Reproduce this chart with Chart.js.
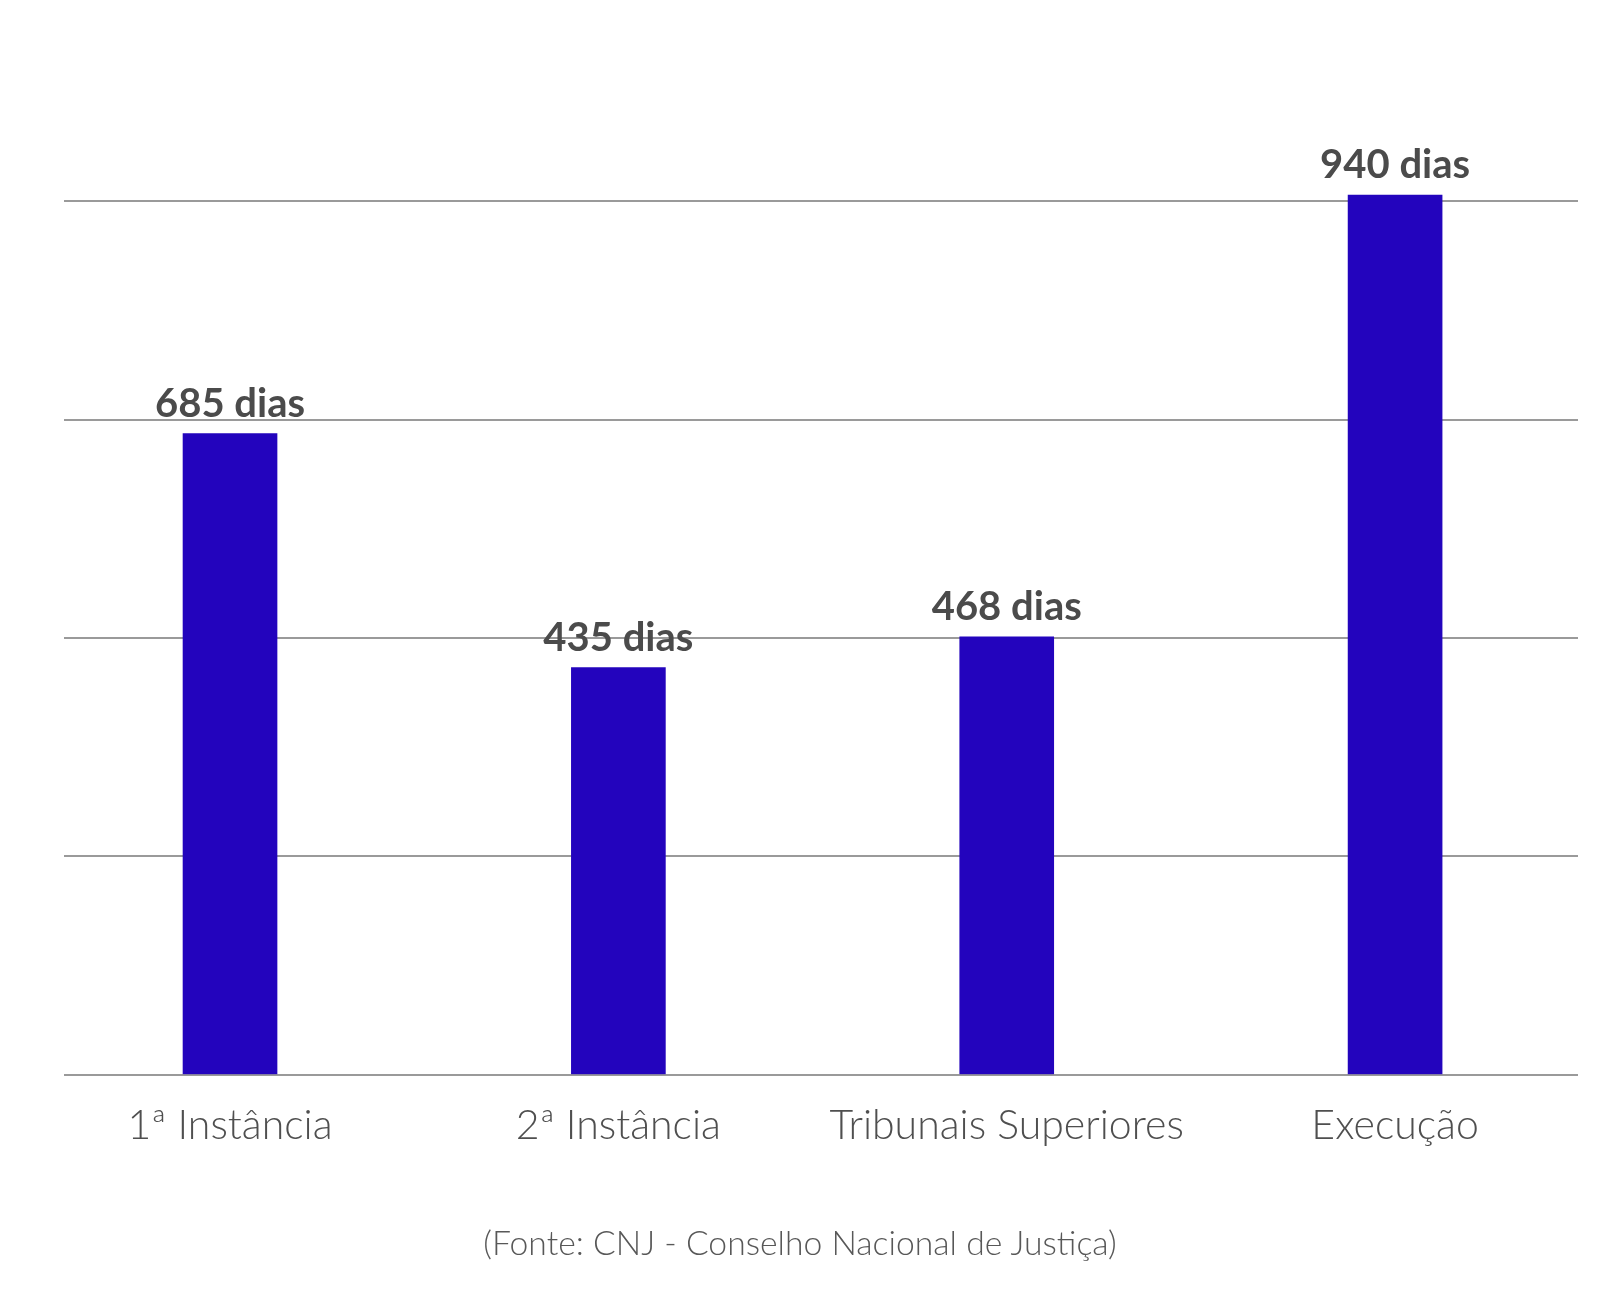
<!DOCTYPE html>
<html lang="pt">
<head>
<meta charset="utf-8">
<title>Tempo médio de tramitação</title>
<script src="https://cdn.jsdelivr.net/npm/chart.js@4.4.1/dist/chart.umd.min.js"></script>
<style>
    html, body { margin: 0; padding: 0; background: #ffffff; }
    #wrap { width: 1600px; height: 1299px; position: relative; }
    #fonte {
        position: absolute; left: 0; top: 1222px; width: 1600px;
        text-align: center; font: 300 33.7px/1.2 Lato, 'Open Sans', sans-serif;
        color: #585858;
    }
</style>
</head>
<body>
<div id="wrap">
    <canvas id="chart"></canvas>
    <div id="fonte"></div>
</div>
<script>
const categories = ["1ª Instância", "2ª Instância", "Tribunais Superiores", "Execução"];
const dias = [685, 435, 468, 940];
const gridValues = [0, 233.33, 466.67, 700, 933.33];
const sourceText = "(Fonte: CNJ - Conselho Nacional de Justiça)";

const BAR_COLOR = "#2304bd";
const GRID_COLOR = "#9a9a9a";
const FONT = "Lato, 'Open Sans', sans-serif";

document.getElementById("fonte").textContent = sourceText;

// draws "NNN dias" above each bar
const valueLabels = {
    id: "valueLabels",
    afterDatasetsDraw(chart) {
        const ctx = chart.ctx;
        const meta = chart.getDatasetMeta(0);
        ctx.save();
        ctx.font = `700 40px ${FONT}`;
        ctx.fillStyle = "#4b4b4b";
        ctx.textAlign = "center";
        ctx.textBaseline = "alphabetic";
        meta.data.forEach((bar, i) => {
            ctx.fillText(`${dias[i]} dias`, bar.x, bar.y - 17);
        });
        ctx.restore();
    },
};

new Chart(document.getElementById("chart"), {
    type: "bar",
    data: {
        datasets: [{
            label: "Dias",
            data: categories.map((_, i) => ({ x: i, y: dias[i] })),
            backgroundColor: BAR_COLOR,
            borderWidth: 0,
            barThickness: 94,
        }],
    },
    options: {
        responsive: true,
        maintainAspectRatio: false,
        animation: false,
        layout: { padding: { left: 64, right: 22, top: 92, bottom: 131 } },
        plugins: {
            legend: { display: false },
            tooltip: { enabled: false },
        },
        scales: {
            x: {
                type: "linear",
                offset: false,
                min: -0.4275,
                max: 3.471,
                grid: { display: false, offset: false },
                border: { display: false },
                afterBuildTicks(scale) {
                    scale.ticks = categories.map((_, i) => ({ value: i }));
                },
                ticks: {
                    autoSkip: false,
                    maxRotation: 0,
                    padding: 18,
                    color: "#4f4f4f",
                    font: { family: FONT, size: 41, weight: "300" },
                    callback: (value) => categories[value],
                },
            },
            y: {
                min: 0,
                max: 1050,
                border: { display: false },
                grid: { color: GRID_COLOR, lineWidth: 2, drawTicks: false },
                afterBuildTicks(scale) {
                    scale.ticks = gridValues.map((v) => ({ value: v }));
                },
                afterFit(scale) {
                    scale.width = 0;
                },
                ticks: { display: false },
            },
        },
    },
    plugins: [valueLabels],
});
</script>
</body>
</html>
